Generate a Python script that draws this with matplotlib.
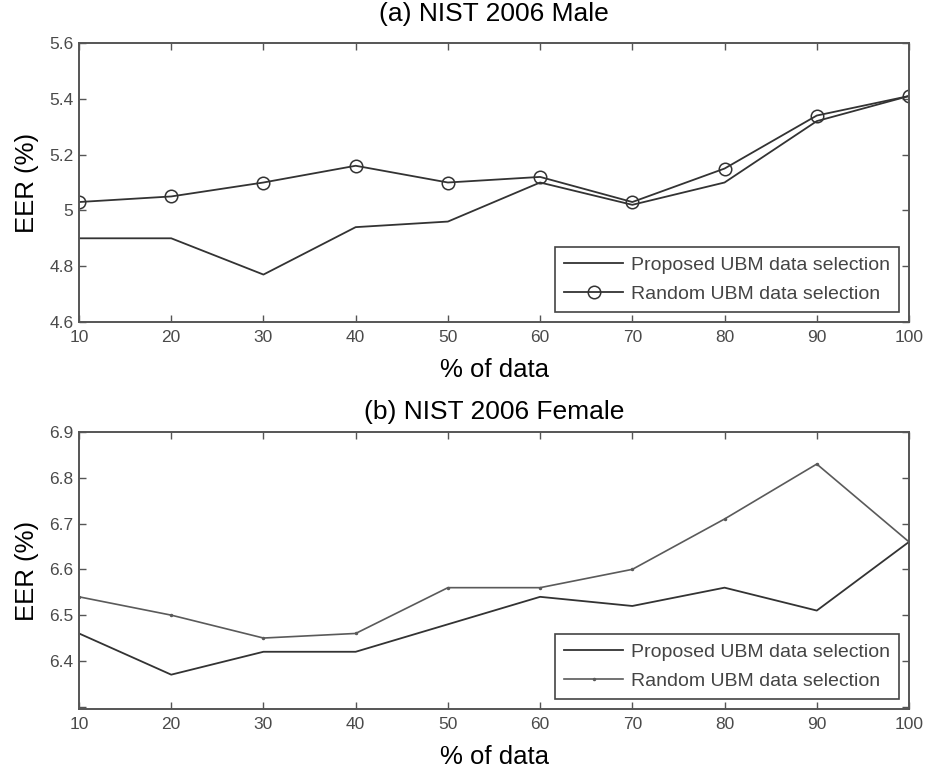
import numpy as np
import matplotlib
matplotlib.use('Agg')
import matplotlib.pyplot as plt

plt.rcParams['font.family'] = ['Liberation Sans', 'DejaVu Sans']

pct = [10, 20, 30, 40, 50, 60, 70, 80, 90, 100]

# NIST 2006 male EER
male_proposed = [4.90, 4.90, 4.77, 4.94, 4.96, 5.10, 5.02, 5.10, 5.32, 5.41]
male_random = [5.03, 5.05, 5.10, 5.16, 5.10, 5.12, 5.03, 5.15, 5.34, 5.41]

# NIST 2006 female EER
female_proposed = [6.46, 6.37, 6.42, 6.42, 6.48, 6.54, 6.52, 6.56, 6.51, 6.66]
female_random = [6.54, 6.50, 6.45, 6.46, 6.56, 6.56, 6.60, 6.71, 6.83, 6.66]

male_yticks = [4.6, 4.8, 5.0, 5.2, 5.4, 5.6]
male_ylabels = ['4.6', '4.8', '5', '5.2', '5.4', '5.6']
female_yticks = [6.3, 6.4, 6.5, 6.6, 6.7, 6.8, 6.9]
female_ylabels = ['', '6.4', '6.5', '6.6', '6.7', '6.8', '6.9']

fig = plt.figure(figsize=(9.26, 7.72), dpi=100)
ax1 = fig.add_axes([79 / 926, 1 - 322 / 772, 830 / 926, 279 / 772])
ax2 = fig.add_axes([79 / 926, 1 - 709 / 772, 830 / 926, 277 / 772])

line_col = '#333333'
tick_col = '#4a4a4a'


def style(ax, yticks, ylabels, ylim):
    ax.set_xlim(10, 100)
    ax.set_ylim(*ylim)
    ax.set_xticks(pct)
    ax.set_xticklabels([str(p) for p in pct], fontsize=12.5, color=tick_col)
    ax.set_yticks(yticks)
    ax.set_yticklabels(ylabels, fontsize=12.5, color=tick_col)
    ax.tick_params(direction='in', top=True, right=True, length=5, width=1.0,
                   color='#555555')
    ax.tick_params(axis='x', pad=6)
    ax.tick_params(axis='y', pad=4)
    for s in ax.spines.values():
        s.set_color('#555555')
        s.set_linewidth(1.4)
    ax.set_xlabel('% of data', fontsize=18.5, labelpad=9)
    ax.set_ylabel('EER (%)', fontsize=18.5, labelpad=7)


ax1.plot(pct, male_proposed, color=line_col, lw=1.3, label='Proposed UBM data selection')
ax1.plot(pct, male_random, color=line_col, lw=1.3, marker='o', markersize=9,
         markerfacecolor='none', markeredgewidth=1.1, label='Random UBM data selection')
style(ax1, male_yticks, male_ylabels, (4.6, 5.6))
ax1.set_title('(a) NIST 2006 Male', fontsize=19, pad=16)

ax2.plot(pct, female_proposed, color=line_col, lw=1.3, label='Proposed UBM data selection')
ax2.plot(pct, female_random, color='#5a5a5a', lw=1.2, marker='.', markersize=3,
         label='Random UBM data selection')
style(ax2, female_yticks, female_ylabels, (6.295, 6.9))
ax2.set_title('(b) NIST 2006 Female', fontsize=19, pad=9)

for ax in (ax1, ax2):
    leg = ax.legend(loc='lower right', fontsize=14, frameon=True, fancybox=False,
                    edgecolor='#444444', framealpha=1, handlelength=3.0,
                    borderaxespad=0.5, borderpad=0.5, labelspacing=0.55,
                    handletextpad=0.4)
    leg.get_frame().set_linewidth(1.2)
    for t in leg.get_texts():
        t.set_color('#444444')

fig.savefig('out.png', dpi=100)
